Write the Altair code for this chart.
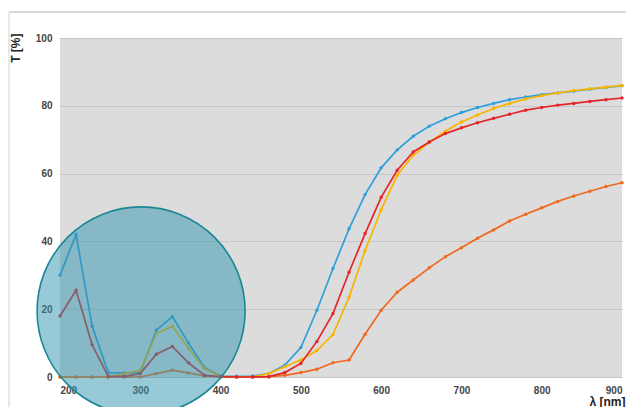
import altair as alt
import pandas as pd

wavelength = list(range(200, 901, 20))

blue = [30, 42, 15, 1.3, 1.2, 1.3, 13.8, 17.8, 10, 2.8, 0.3, 0.2, 0.3, 1, 3.5, 8.7,
        19.7, 32, 43.7, 53.8, 61.7, 67, 71, 74, 76.2, 78, 79.5, 80.7, 81.8, 82.6,
        83.3, 83.8, 84.3, 84.9, 85.4, 85.9]
red = [18, 25.6, 9.5, 0.2, 0.2, 1, 6.7, 9, 4.2, 0.5, 0.1, 0, 0, 0.1, 1.3, 4,
       10.5, 18.7, 30.9, 42.3, 53, 61, 66.4, 69.3, 71.8, 73.5, 75, 76.3, 77.5, 78.7,
       79.5, 80.2, 80.7, 81.3, 81.8, 82.3]
yellow = [0, 0, 0, 0, 1, 2, 12.8, 15, 8.5, 2.5, 0.2, 0, 0, 1, 3, 5,
          7.8, 12.5, 23.5, 37.3, 49.3, 59.5, 65.4, 69.3, 72.5, 75.2, 77.3, 79.2, 80.7, 82,
          83, 83.8, 84.5, 85, 85.5, 86]
orange = [0, 0, 0, 0, 0, 0, 1, 2, 1.2, 0.3, 0, 0, 0, 0.1, 0.5, 1.3,
          2.3, 4.2, 5, 12.6, 19.7, 25, 28.6, 32.2, 35.5, 38.1, 40.9, 43.4, 46, 48,
          49.9, 51.8, 53.4, 54.8, 56.2, 57.3]

series_names = ["Probe 1", "Probe 3", "Probe 4", "Probe 2"]
series_values = [blue, yellow, orange, red]
series_colors = ["#2f9fdc", "#f7b500", "#ef6a1f", "#e3262a"]

x_ticks = [200, 300, 400, 500, 600, 700, 800, 900]
y_ticks = [0, 20, 40, 60, 80, 100]

# zoom circle (centre in data units)
circle_center = pd.DataFrame({"wl": [301], "T": [19.5]})

FONT = "Liberation Sans"

x_enc = alt.X("wl:Q", scale=alt.Scale(domain=[200, 900], nice=False),
              axis=alt.Axis(values=x_ticks, title="λ [nm]", grid=False, domain=False,
                            ticks=False, tickSize=0, labelPadding=8, labelFontSize=10,
                            labelFontWeight="bold", labelColor="#444", labelFont=FONT,
                            titleFont=FONT, titleFontSize=12, titleFontWeight="bold",
                            titleColor="#222", titleAnchor="end", titleAlign="right",
                            titleX=565, titleY=28, titleBaseline="alphabetic"))
y_enc = alt.Y("T:Q", scale=alt.Scale(domain=[0, 100], nice=False),
              axis=alt.Axis(values=y_ticks, title="T [%]", grid=True, gridColor="#c6c6c6",
                            gridWidth=1, domain=False, ticks=False, tickSize=0,
                            labelPadding=8, labelFontSize=10, labelFontWeight="bold",
                            labelColor="#444", labelFont=FONT, titleFont=FONT,
                            titleFontSize=12, titleFontWeight="bold", titleColor="#222",
                            titleAngle=270, titleAlign="right", titleBaseline="alphabetic",
                            titleX=-41, titleY=-5))

layers = []
for name, vals, col in zip(series_names, series_values, series_colors):
    d = pd.DataFrame({"wl": wavelength, "T": vals, "series": name})
    layers.append(
        alt.Chart(d).mark_line(color=col, strokeWidth=1.7, clip=False,
                               point=alt.OverlayMarkDef(color=col, size=12, filled=True))
        .encode(x=x_enc, y=y_enc)
    )

circle = alt.Chart(circle_center).mark_point(
    shape="circle", size=208 ** 2, filled=True, fill="#2f93ad", fillOpacity=0.5,
    stroke="#1a8796", strokeWidth=1.6, strokeOpacity=1, opacity=1, clip=False
).encode(x="wl:Q", y="T:Q")

frame_top = alt.Chart(circle_center).mark_rule(color="#d8d8d8", strokeWidth=2).encode(
    x=alt.value(-51), x2=alt.value(566), y=alt.value(-26))
frame_left = alt.Chart(circle_center).mark_rule(color="#e0e0e0", strokeWidth=1.5).encode(
    x=alt.value(-51), y=alt.value(-26), y2=alt.value(369))

chart = alt.layer(frame_top, frame_left, *layers, circle).properties(
    width=562, height=339,
    autosize=alt.AutoSizeParams(type="none"),
    padding={"left": 52, "top": 30, "right": 4, "bottom": 30},
    background="white",
).configure_view(fill="#dcdcdc", stroke=None)

chart.save("out.html", embed_options={"renderer": "svg", "actions": False})
